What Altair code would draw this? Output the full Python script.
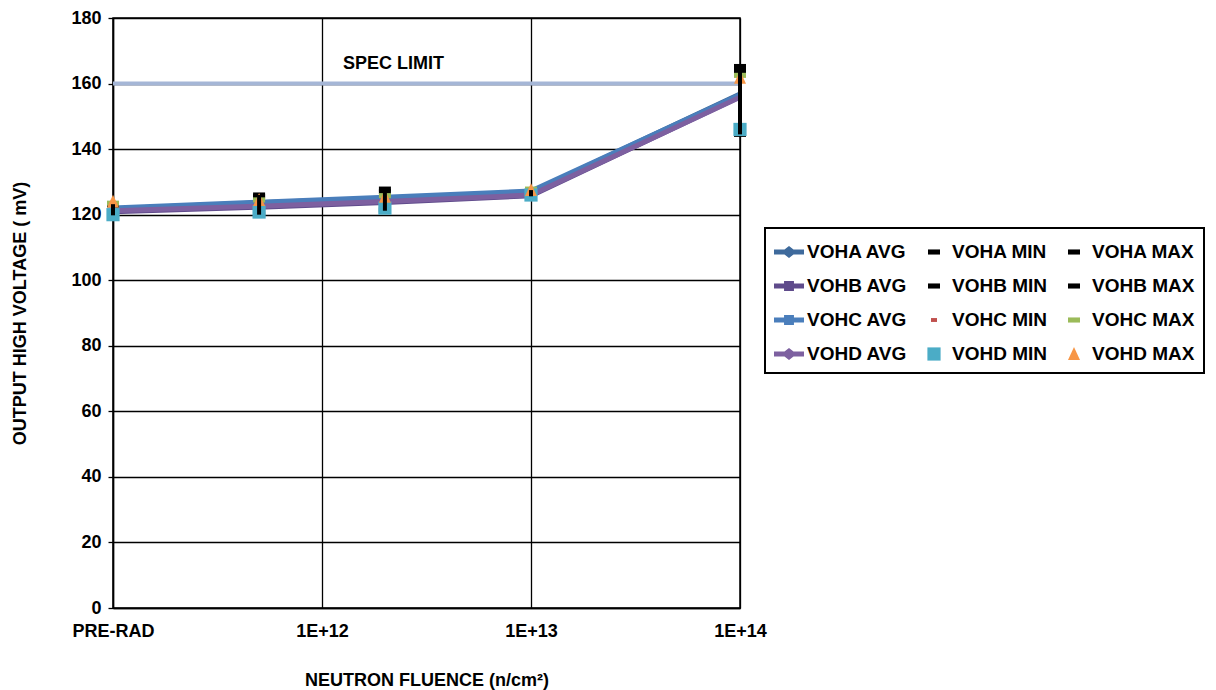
import altair as alt
import pandas as pd

fluence = [1e11, 5e11, 2e12, 1e13, 1e14]

voha_avg = [121.8, 123.6, 125.0, 126.8, 156.8]
vohb_avg = [120.9, 122.3, 123.7, 125.8, 156.0]
vohc_avg = [122.0, 123.8, 125.3, 127.2, 156.6]
vohd_avg = [121.2, 122.6, 124.0, 126.0, 155.8]

voha_min = [119.8, 120.0, 121.2, 125.6, 144.5]
vohb_min = [120.2, 120.6, 121.6, 125.8, 145.5]
vohc_min = [120.4, 121.0, 122.0, 126.0, 146.0]
vohd_min = [120.0, 120.8, 122.0, 126.0, 146.0]

voha_max = [123.0, 126.0, 127.8, 127.5, 165.2]
vohb_max = [123.2, 125.5, 127.0, 127.2, 164.0]
vohc_max = [123.5, 124.5, 125.8, 127.8, 162.5]
vohd_max = [124.0, 124.5, 125.5, 127.5, 161.8]

spec_limit = 160
x_ticks = [1e11, 1e12, 1e13, 1e14]
y_ticks = [0, 20, 40, 60, 80, 100, 120, 140, 160, 180]

avg_series = {
    "VOHA AVG": voha_avg, "VOHB AVG": vohb_avg,
    "VOHC AVG": vohc_avg, "VOHD AVG": vohd_avg,
}
mm_series = {
    "VOHA MIN": voha_min, "VOHA MAX": voha_max,
    "VOHB MIN": vohb_min, "VOHB MAX": vohb_max,
    "VOHC MIN": vohc_min, "VOHC MAX": vohc_max,
    "VOHD MIN": vohd_min, "VOHD MAX": vohd_max,
}

# legend fills column by column (4 rows x 3 columns)
legend_order = [
    "VOHA AVG", "VOHB AVG", "VOHC AVG", "VOHD AVG",
    "VOHA MIN", "VOHB MIN", "VOHC MIN", "VOHD MIN",
    "VOHA MAX", "VOHB MAX", "VOHC MAX", "VOHD MAX",
]

colors = {
    "VOHA AVG": "#3E6A9C", "VOHA MIN": "#000000", "VOHA MAX": "#000000",
    "VOHB AVG": "#5F4B8B", "VOHB MIN": "#000000", "VOHB MAX": "#000000",
    "VOHC AVG": "#4A7EBB", "VOHC MIN": "#C0504D", "VOHC MAX": "#9BBB59",
    "VOHD AVG": "#7D60A0", "VOHD MIN": "#4BACC6", "VOHD MAX": "#F79646",
}

diamond_line = "M-1,-0.17H-0.3L0,-0.4L0.3,-0.17H1V0.17H0.3L0,0.4L-0.3,0.17H-1Z"
square_line = "M-1,-0.17H-0.33V-0.33H0.33V-0.17H1V0.17H0.33V0.33H-0.33V0.17H-1Z"
dash = "M-0.4,-0.17H0.4V0.17H-0.4Z"
small_dash = "M-0.2,-0.13H0.2V0.13H-0.2Z"
square = "M-0.44,-0.44H0.44V0.44H-0.44Z"
triangle = "M0,-0.46L0.4,0.4L-0.4,0.4Z"

shapes = {
    "VOHA AVG": diamond_line, "VOHA MIN": dash, "VOHA MAX": dash,
    "VOHB AVG": square_line, "VOHB MIN": dash, "VOHB MAX": dash,
    "VOHC AVG": square_line, "VOHC MIN": small_dash, "VOHC MAX": dash,
    "VOHD AVG": diamond_line, "VOHD MIN": square, "VOHD MAX": triangle,
}

avg_rows = []
for i, (name, vals) in enumerate(avg_series.items()):
    for f, v in zip(fluence, vals):
        avg_rows.append({"series": name, "fluence": f, "value": v, "ord": i})
avg_df = pd.DataFrame(avg_rows)

draw_order = ["VOHA MIN", "VOHB MIN", "VOHC MIN", "VOHA MAX", "VOHB MAX",
              "VOHC MAX", "VOHD MIN", "VOHD MAX"]
mm_rows = []
for i, name in enumerate(draw_order):
    for f, v in zip(fluence, mm_series[name]):
        mm_rows.append({"series": name, "fluence": f, "value": v, "ord": i})
mm_df = pd.DataFrame(mm_rows)

bar_df = pd.DataFrame({
    "fluence": fluence,
    "lo": [min(a, b) for a, b in zip(voha_min, vohb_min)],
    "hi": [max(a, b) for a, b in zip(voha_max, vohb_max)],
})

FONT = "Liberation Sans"
FS = 18

x_scale = alt.Scale(type="log", domain=[1e11, 1e14], nice=False)
y_scale = alt.Scale(domain=[0, 180], nice=False)

x_enc = alt.X(
    "fluence:Q", scale=x_scale,
    axis=alt.Axis(
        values=x_ticks,
        labelExpr="datum.value < 5e11 ? 'PRE-RAD' : datum.value < 5e12 ? '1E+12' : datum.value < 5e13 ? '1E+13' : '1E+14'",
        title="NEUTRON FLUENCE (n/cm²)",
        grid=True, gridColor="#000000", gridWidth=1.3, gridOpacity=1,
        domainColor="#000000", domainWidth=1.5,
        ticks=False, labelPadding=14,
        labelFont=FONT, labelFontSize=FS, labelFontWeight="bold", labelColor="#000000",
        titleFont=FONT, titleFontSize=FS, titleFontWeight="bold", titleColor="#000000",
        titlePadding=31, labelFlush=False, labelOverlap=False,
    ),
)
y_enc = alt.Y(
    "value:Q", scale=y_scale,
    axis=alt.Axis(
        values=y_ticks, title="OUTPUT HIGH VOLTAGE ( mV)",
        grid=True, gridColor="#000000", gridWidth=1.3, gridOpacity=1,
        domainColor="#000000", domainWidth=1.5,
        tickColor="#000000", tickSize=5, tickWidth=1.3,
        labelPadding=7,
        labelFont=FONT, labelFontSize=FS, labelFontWeight="bold", labelColor="#000000",
        titleFont=FONT, titleFontSize=FS, titleFontWeight="bold", titleColor="#000000",
        titlePadding=41,
    ),
)

spec = alt.Chart(pd.DataFrame({"value": [spec_limit]})).mark_rule(
    color="#A5B6D6", strokeWidth=4
).encode(y=alt.Y("value:Q", scale=y_scale))

spec_text = alt.Chart(
    pd.DataFrame({"fluence": [2.2e12], "value": [166.0], "label": ["SPEC LIMIT"]})
).mark_text(font=FONT, fontSize=FS, fontWeight="bold", color="#000000").encode(
    x=alt.X("fluence:Q", scale=x_scale), y=alt.Y("value:Q", scale=y_scale), text="label:N"
)

lines = alt.Chart(avg_df).mark_line(strokeWidth=5).encode(
    x=x_enc, y=y_enc,
    stroke=alt.Stroke(
        "series:N",
        scale=alt.Scale(domain=list(avg_series.keys()),
                        range=[colors[k] for k in avg_series.keys()]),
        legend=None,
    ),
    order="ord:Q",
)

legend_cfg = dict(
    title=None, orient="none", legendX=652, legendY=210, columns=3,
    direction="vertical",
    symbolSize=900, symbolStrokeWidth=0, labelOffset=3,
    columnPadding=12, rowPadding=9, padding=9,
    strokeColor="#000000", fillColor="#ffffff",
    labelFont=FONT, labelFontSize=19, labelFontWeight="bold",
    labelColor="#000000", labelLimit=200,
)

points = alt.Chart(mm_df).mark_point(filled=True, size=900, opacity=1).encode(
    x=alt.X("fluence:Q", scale=x_scale),
    y=alt.Y("value:Q", scale=y_scale),
    color=alt.Color(
        "series:N",
        scale=alt.Scale(domain=legend_order, range=[colors[k] for k in legend_order]),
        legend=alt.Legend(**legend_cfg),
    ),
    shape=alt.Shape(
        "series:N",
        scale=alt.Scale(domain=legend_order, range=[shapes[k] for k in legend_order]),
        legend=alt.Legend(**legend_cfg),
    ),
    order="ord:Q",
)

bars = alt.Chart(bar_df).mark_rule(color="#000000", strokeWidth=4).encode(
    x=alt.X("fluence:Q", scale=x_scale),
    y=alt.Y("lo:Q", scale=y_scale),
    y2="hi:Q",
)

chart = alt.layer(spec, spec_text, lines, points, bars).properties(
    width=627, height=590,
    autosize=alt.AutoSizeParams(type="none"),
    padding={"left": 105, "top": 10, "right": 468, "bottom": 82},
).configure_view(stroke="#000000", strokeWidth=1.5).configure_legend(
    strokeWidth=2
)

chart.save("out.html", embed_options={"renderer": "svg", "actions": False})
